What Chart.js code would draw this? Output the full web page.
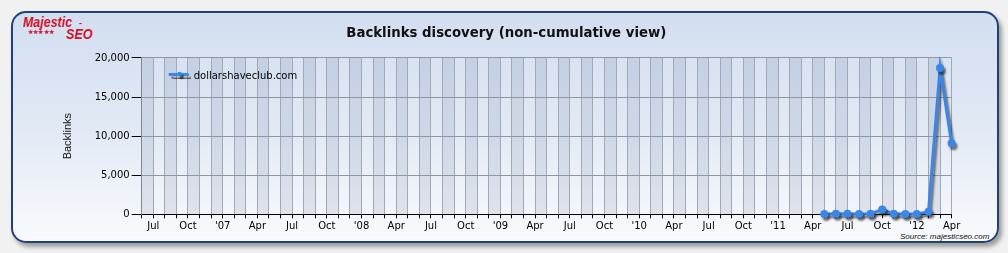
<!DOCTYPE html>
<html>
<head>
<meta charset="utf-8">
<script src="https://cdn.jsdelivr.net/npm/chart.js@4.4.1/dist/chart.umd.min.js"></script>
<style>
  html, body { margin: 0; padding: 0; width: 1008px; height: 253px; overflow: hidden; background: #f1f1f1; }
  #frame {
    position: absolute; left: 11px; top: 11px; width: 988px; height: 232px;
    box-sizing: border-box; border: 2px solid #21407b; border-radius: 15px;
    background: linear-gradient(to bottom, #d2def0 0%, #e2e9f5 50%, #f8fafd 100%);
    box-shadow: 3px 4px 4px rgba(0, 0, 0, 0.35);
  }
  #chart { position: absolute; left: 0; top: 0; }
  .logo { position: absolute; color: #d3122c; font-family: "Liberation Sans", sans-serif;
          font-weight: bold; font-style: italic; transform-origin: left top; white-space: nowrap; }
  #logo1 { left: 23px; top: 13px; font-size: 15px; transform: scaleX(0.83); }
  #logo2 { left: 66px; top: 26px; font-size: 14px; transform: scaleX(0.9); }
  #stars { left: 28px; top: 28px; font-size: 6px; letter-spacing: 0.2px; font-style: normal; }
  #dot { left: 79px; top: 18px; font-size: 9px; font-style: normal; }
  #source { position: absolute; left: 900px; top: 232px; font: italic 8px "Liberation Sans", sans-serif; color: #111; white-space: nowrap; }
</style>
</head>
<body>
<div id="frame"></div>
<div class="logo" id="logo1">Majestic</div>
<div class="logo" id="dot">-</div>
<div class="logo" id="stars">★★★★★</div>
<div class="logo" id="logo2">SEO</div>
<div id="source">Source: majesticseo.com</div>
<canvas id="chart" width="1008" height="253"></canvas>
<script>
// Monthly axis from Jun 2006 to Apr 2012
const firstMonth = { year: 2006, month: 6 };
const lastMonth = { year: 2012, month: 4 };

// Labels shown every third month, starting at Jul 2006
const quarterTicks = ['Jul', 'Oct', "'07", 'Apr', 'Jul', 'Oct', "'08", 'Apr',
                      'Jul', 'Oct', "'09", 'Apr', 'Jul', 'Oct', "'10", 'Apr',
                      'Jul', 'Oct', "'11", 'Apr', 'Jul', 'Oct', "'12", 'Apr'];

// New backlinks found per month
const seriesName = 'dollarshaveclub.com';
const seriesMonths = ['2011-05', '2011-06', '2011-07', '2011-08', '2011-09', '2011-10',
                      '2011-11', '2011-12', '2012-01', '2012-02', '2012-03', '2012-04'];
const backlinks = [40, 60, 55, 50, 70, 600, 60, 50, 40, 320, 18700, 9100];

const yTicks = [0, 5000, 10000, 15000, 20000];

// category list: one entry per month
const monthKeys = [];
for (let y = firstMonth.year, m = firstMonth.month; y < lastMonth.year || (y === lastMonth.year && m <= lastMonth.month); ) {
  monthKeys.push(y + '-' + String(m).padStart(2, '0'));
  m++; if (m > 12) { m = 1; y++; }
}

const points = seriesMonths.map((k, i) => ({ x: k, y: backlinks[i] }));

const LINE_BLUE = '#3b86e6';

// alternating shaded month columns behind the grid
const bandPlugin = {
  id: 'monthBands',
  beforeDraw(chart) {
    const { ctx, chartArea: a, scales: { x } } = chart;
    const g = ctx.createLinearGradient(0, a.top, 0, a.bottom);
    g.addColorStop(0, 'rgba(60, 90, 145, 0.13)');
    g.addColorStop(1, 'rgba(75, 88, 120, 0.12)');
    ctx.save();
    ctx.fillStyle = g;
    for (let i = 0; i < monthKeys.length - 1; i += 2) {
      const x0 = x.getPixelForValue(i), x1 = x.getPixelForValue(i + 1);
      ctx.fillRect(x0, a.top, x1 - x0, a.bottom - a.top);
    }
    ctx.restore();
  }
};

// soft drop shadow under the series line and markers
const shadowPlugin = {
  id: 'lineShadow',
  beforeDatasetDraw(chart) {
    const ctx = chart.ctx;
    ctx.save();
    ctx.shadowColor = 'rgba(0, 0, 0, 0.5)';
    ctx.shadowBlur = 2;
    ctx.shadowOffsetX = 2;
    ctx.shadowOffsetY = 3;
  },
  afterDatasetDraw(chart) { chart.ctx.restore(); }
};

// legend drawn inside the plot, top-left
const innerLegend = {
  id: 'innerLegend',
  afterDatasetsDraw(chart) {
    const { ctx, chartArea: a } = chart;
    const ds = chart.data.datasets[0];
    const lx = a.left + 27, ly = a.top + 16.5;
    ctx.save();
    ctx.shadowColor = 'rgba(0, 0, 0, 0.55)';
    ctx.shadowBlur = 1;
    ctx.shadowOffsetX = 2;
    ctx.shadowOffsetY = 3;
    ctx.strokeStyle = ds.borderColor;
    ctx.lineWidth = 3;
    ctx.beginPath(); ctx.moveTo(lx, ly); ctx.lineTo(lx + 20, ly); ctx.stroke();
    ctx.fillStyle = ds.borderColor;
    ctx.beginPath(); ctx.arc(lx + 11, ly - 0.5, 2.2, 0, Math.PI * 2); ctx.fill();
    ctx.restore();
    ctx.save();
    ctx.font = '10px "DejaVu Sans"';
    ctx.fillStyle = '#000';
    ctx.textBaseline = 'middle';
    ctx.fillText(ds.label, lx + 25, ly + 1.5);
    ctx.restore();
  }
};

new Chart(document.getElementById('chart'), {
  type: 'line',
  data: {
    labels: monthKeys,
    datasets: [{
      label: seriesName,
      data: points,
      borderColor: LINE_BLUE,
      backgroundColor: LINE_BLUE,
      borderWidth: 3,
      pointRadius: 4,
      pointBorderWidth: 0,
      pointBackgroundColor: LINE_BLUE,
      tension: 0,
      clip: false
    }]
  },
  options: {
    responsive: false,
    animation: false,
    events: [],
    layout: { padding: { left: 61, right: 56.4, top: 0, bottom: 18.7 } },
    plugins: {
      legend: { display: false },
      tooltip: { enabled: false },
      title: {
        display: true,
        text: 'Backlinks discovery (non-cumulative view)',
        color: '#111',
        font: { family: 'DejaVu Sans', size: 13.3, weight: 'bold', lineHeight: 1.2 },
        padding: { top: 25.5, bottom: 16.5 }
      }
    },
    scales: {
      x: {
        type: 'category',
        offset: false,
        afterFit(s) { s.height = 20; },
        grid: { color: '#a2a9b5', lineWidth: 1, tickColor: '#000', tickLength: 4, drawOnChartArea: true },
        border: { color: '#000', width: 1 },
        ticks: {
          autoSkip: false, maxRotation: 0, minRotation: 0, padding: 2,
          color: '#000', font: { family: 'DejaVu Sans', size: 10 },
          callback(value, index) {
            return (index - 1) % 3 === 0 && index >= 1 ? quarterTicks[(index - 1) / 3] : '';
          }
        }
      },
      y: {
        min: 0, max: 20000,
        afterFit(s) { s.width = 80.7; },
        afterBuildTicks(s) { s.ticks = yTicks.map(v => ({ value: v })); },
        grid: { color: '#8e96a3', lineWidth: 1, tickColor: '#000', tickLength: 10 },
        border: { color: '#7d8590', width: 1 },
        ticks: {
          padding: 2, color: '#000', font: { family: 'DejaVu Sans', size: 10 },
          callback: v => v.toLocaleString('en-US')
        },
        title: {
          display: true, text: 'Backlinks', color: '#111',
          font: { family: 'Liberation Sans', size: 11 }, padding: 0
        }
      }
    }
  },
  plugins: [bandPlugin, shadowPlugin, innerLegend]
});
</script>
</body>
</html>
